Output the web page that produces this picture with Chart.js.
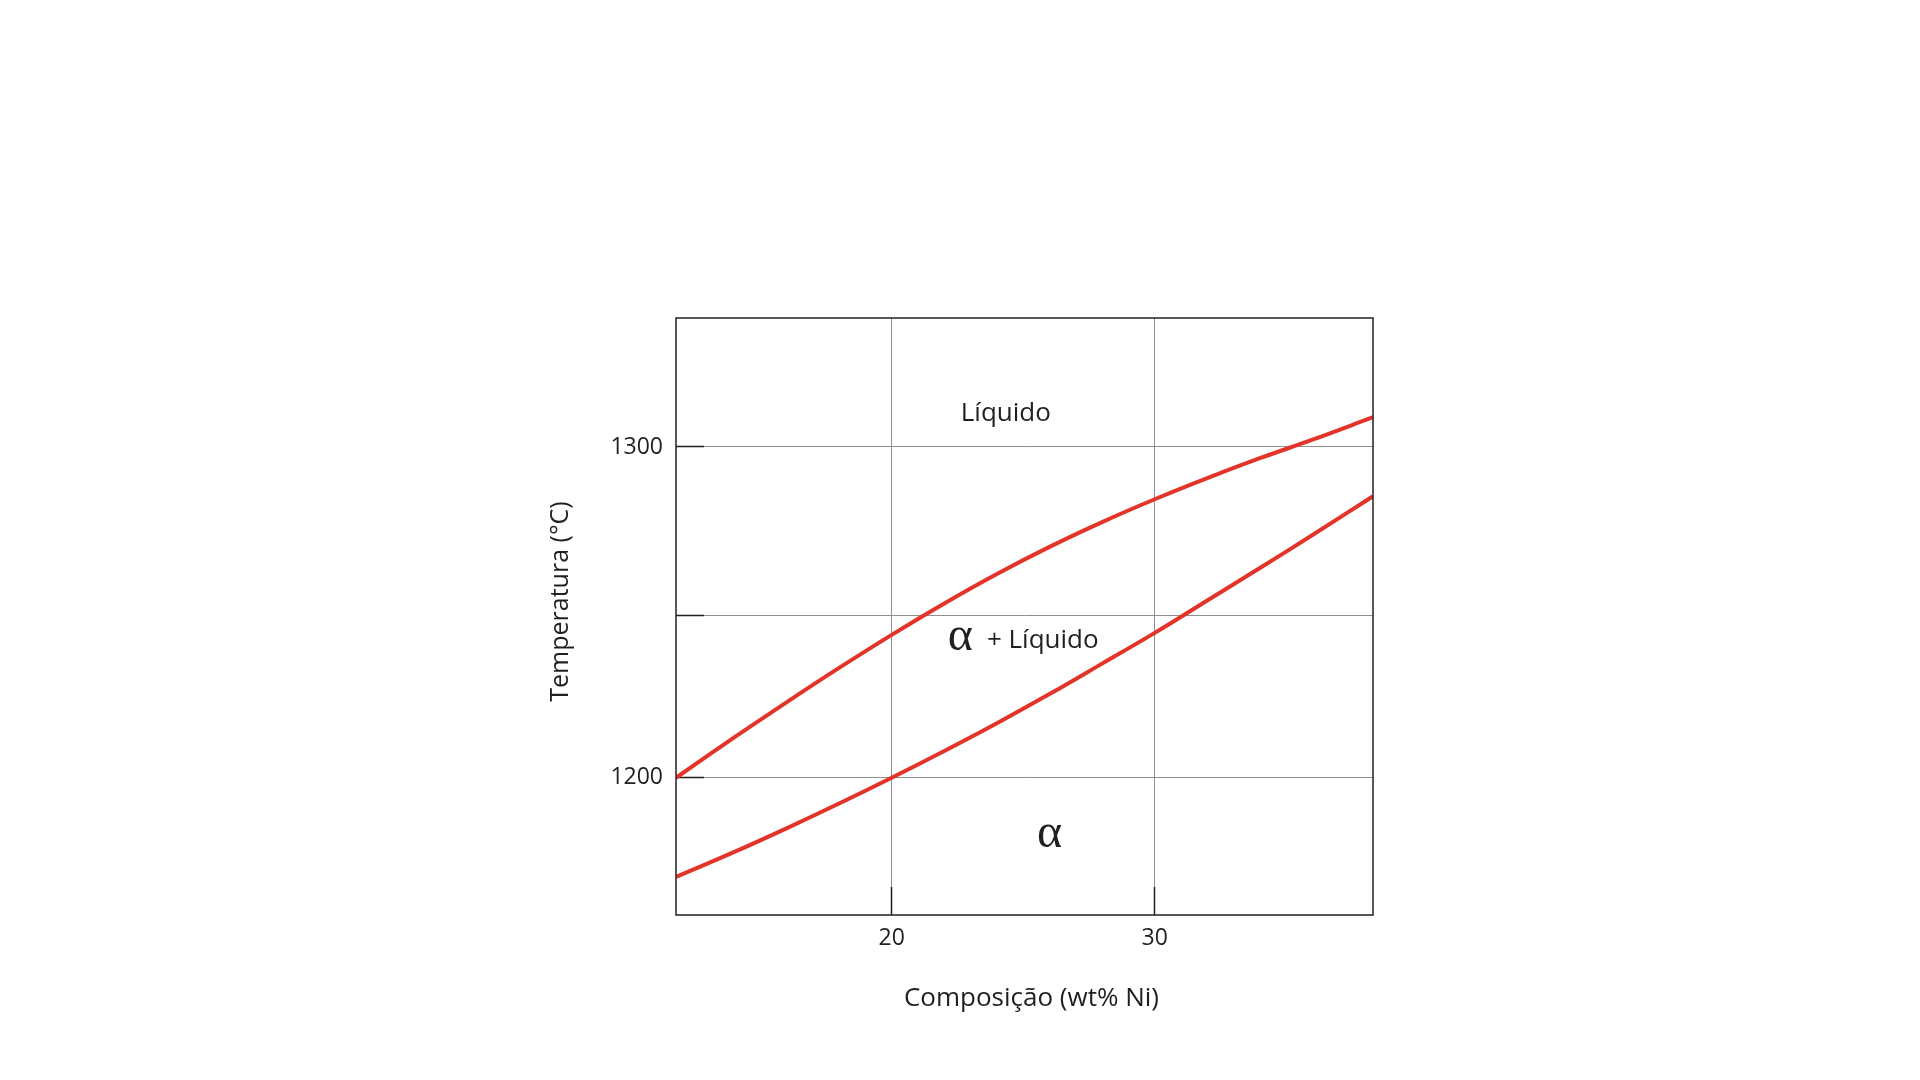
<!DOCTYPE html>
<html>
<head>
<meta charset="utf-8">
<title>Diagrama de fases Cu-Ni</title>
<script src="https://cdn.jsdelivr.net/npm/chart.js@4.4.0/dist/chart.umd.min.js"></script>
<style>
  html, body { margin: 0; padding: 0; background: #fff; }
  canvas { display: block; }
</style>
</head>
<body>
<canvas id="chart" width="1920" height="1080"></canvas>
<script>
// values (wt% Ni, °C)
const composition = [11.8, 14, 16, 18, 20, 22, 24, 26, 28, 30, 32, 34, 36, 38.3];
const liquidus = [1200, 1212.1, 1222.8, 1233.2, 1243.2, 1252.7, 1261.6, 1269.8, 1277.3, 1284.2, 1290.6, 1296.6, 1302.2, 1309];
const solidus = [1170, 1177.5, 1184.7, 1192.2, 1200, 1208.1, 1216.5, 1225.3, 1234.5, 1243.8, 1253.6, 1263.4, 1273.4, 1285.1];

const xTicks = [20, 30];
const yTicks = [1200, 1249, 1300];
const yTickLabels = ['1200', '', '1300'];

const xTitle = 'Composição (wt% Ni)';
const yTitle = 'Temperatura (°C)';

const INK = '#231f20';
const RED = '#e3342a';

function toPoints(ys) {
    return composition.map((c, i) => ({ x: c, y: ys[i] }));
}

// frame, region labels and axis titles
const decorations = {
    id: 'decorations',
    afterDraw(chart) {
        const { ctx, chartArea: a, scales: { x, y } } = chart;
        ctx.save();
        ctx.strokeStyle = INK;
        ctx.lineWidth = 1.5;
        ctx.strokeRect(a.left, a.top, a.right - a.left, a.bottom - a.top);

        ctx.fillStyle = INK;
        ctx.textBaseline = 'alphabetic';

        ctx.font = '26px "Open Sans"';
        ctx.textAlign = 'center';
        ctx.fillText('Líquido', x.getPixelForValue(24.34), y.getPixelForValue(1307.9));

        ctx.textAlign = 'left';
        ctx.fillText('+ Líquido', x.getPixelForValue(23.62), y.getPixelForValue(1239.1));

        ctx.font = '48px "Liberation Serif"';
        ctx.textAlign = 'center';
        ctx.fillText('α', x.getPixelForValue(22.61), y.getPixelForValue(1238.5));
        ctx.fillText('α', x.getPixelForValue(26.0), y.getPixelForValue(1179.0));

        // x title
        ctx.font = '26px "Open Sans"';
        ctx.textBaseline = 'middle';
        ctx.fillText(xTitle, (a.left + a.right) / 2 + 7, a.bottom + 84);

        // y title
        ctx.font = '25px "Open Sans"';
        ctx.translate(a.left - 115, (a.top + a.bottom) / 2 - 15);
        ctx.rotate(-Math.PI / 2);
        ctx.fillText(yTitle, 0, 0);
        ctx.restore();
    }
};

new Chart(document.getElementById('chart'), {
    type: 'line',
    data: {
        datasets: [
            { label: 'Liquidus', data: toPoints(liquidus) },
            { label: 'Solidus', data: toPoints(solidus) }
        ]
    },
    options: {
        responsive: false,
        animation: false,
        layout: { padding: { left: 540, right: 547, top: 318, bottom: 0 } },
        elements: {
            line: { borderColor: RED, borderWidth: 4, tension: 0.4, fill: false },
            point: { radius: 0 }
        },
        plugins: {
            legend: { display: false },
            tooltip: { enabled: false }
        },
        scales: {
            x: {
                type: 'linear',
                min: 11.8,
                max: 38.3,
                afterFit: s => { s.height = 165; },
                afterBuildTicks: s => { s.ticks = xTicks.map(v => ({ value: v })); },
                grid: { color: '#8f8f8f', lineWidth: 1, tickLength: -28, tickColor: INK, tickWidth: 1.5 },
                border: { display: false },
                ticks: {
                    color: INK,
                    padding: 38,
                    font: { family: 'Open Sans', size: 23 },
                    callback: v => String(v)
                }
            },
            y: {
                type: 'linear',
                min: 1158.5,
                max: 1339,
                afterFit: s => { s.width = 136; },
                afterBuildTicks: s => { s.ticks = yTicks.map(v => ({ value: v })); },
                grid: { color: '#8f8f8f', lineWidth: 1, tickLength: -28, tickColor: INK, tickWidth: 1.5 },
                border: { display: false },
                ticks: {
                    color: INK,
                    padding: 41,
                    font: { family: 'Open Sans', size: 23 },
                    callback: v => yTickLabels[yTicks.indexOf(v)]
                }
            }
        }
    },
    plugins: [decorations]
});
</script>
</body>
</html>
